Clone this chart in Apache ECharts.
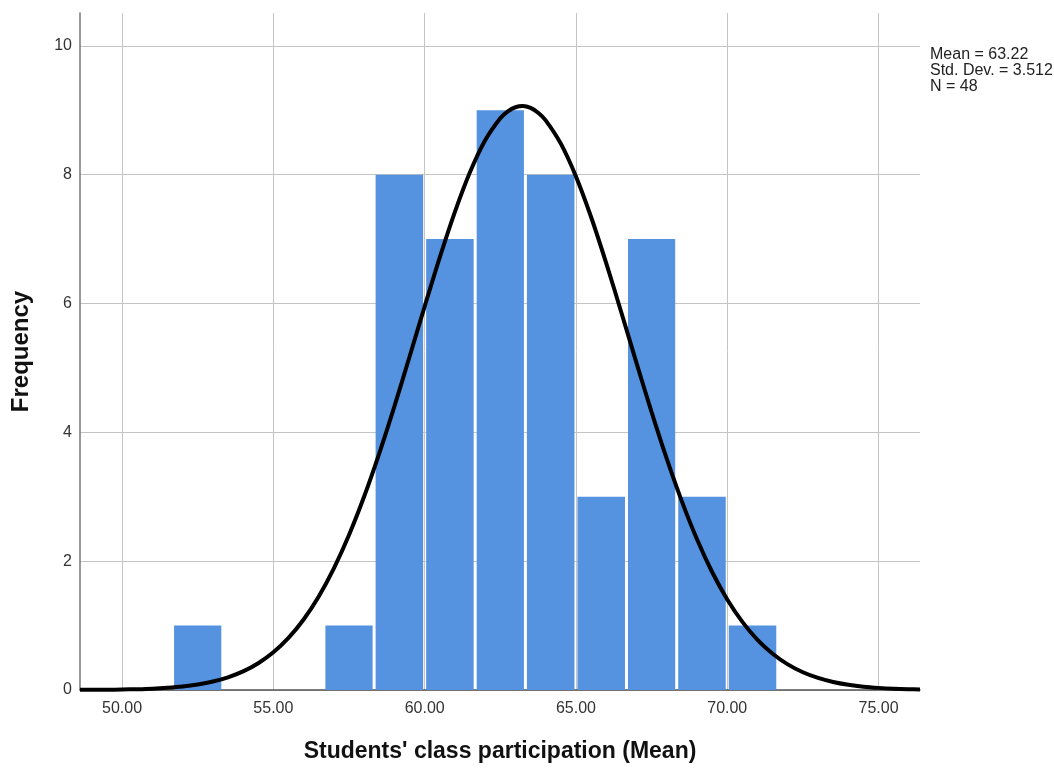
<!DOCTYPE html>
<html><head><meta charset="utf-8">
<script src="https://cdn.jsdelivr.net/npm/echarts@6/dist/echarts.min.js"></script>
<style>html,body{margin:0;padding:0;background:#fff}#c{width:1054px;height:769px}</style>
</head><body><div id="c"></div>
<script>
// Histogram bins (edges) and frequencies
const binEdges = [51.67, 53.33, 55.00, 56.67, 58.33, 60.00, 61.67, 63.33, 65.00, 66.67, 68.33, 70.00, 71.67];
const binCounts = [1, 0, 0, 1, 8, 7, 9, 8, 3, 7, 3, 1];
// Normal curve points
const curveX = [48.61, 49, 49.5, 50, 50.5, 51, 51.5, 52, 52.5, 53, 53.5, 54, 54.5, 55, 55.5, 56, 56.5, 57, 57.5, 58, 58.5, 59, 59.5, 60, 60.5, 61, 61.5, 62, 62.5, 62.75, 63, 63.25, 63.5, 63.75, 64, 64.5, 65, 65.5, 66, 66.5, 67, 67.5, 68, 68.5, 69, 69.5, 70, 70.5, 71, 71.5, 72, 72.5, 73, 73.5, 74, 74.5, 75, 75.5, 76, 76.37];
const curveY = [0.002, 0.003, 0.004, 0.008, 0.013, 0.021, 0.035, 0.055, 0.086, 0.131, 0.197, 0.289, 0.416, 0.586, 0.809, 1.095, 1.453, 1.889, 2.406, 3.003, 3.674, 4.404, 5.173, 5.954, 6.716, 7.423, 8.041, 8.535, 8.877, 8.984, 9.047, 9.065, 9.036, 8.962, 8.844, 8.482, 7.973, 7.343, 6.627, 5.861, 5.079, 4.314, 3.591, 2.928, 2.340, 1.832, 1.406, 1.058, 0.779, 0.563, 0.398, 0.276, 0.188, 0.125, 0.082, 0.052, 0.033, 0.020, 0.012, 0.008];
const xTicks = [50, 55, 60, 65, 70, 75];
const yTicks = [0, 2, 4, 6, 8, 10];
const statsLines = ['Mean = 63.22', 'Std. Dev. = 3.512', 'N = 48'];
const xName = "Students' class participation (Mean)";
const yName = 'Frequency';

const barData = binCounts.map((c, i) => [binEdges[i], binEdges[i + 1], c]);
const lineData = curveX.map((x, i) => [x, curveY[i]]);
const FONT = '"Liberation Sans", Arial, sans-serif';

const chart = echarts.init(document.getElementById('c'), null, {renderer: 'canvas'});
chart.setOption({
  animation: false,
  backgroundColor: '#fff',
  grid: {left: 80, right: 134, top: 13, bottom: 79, containLabel: false, outerBoundsMode: 'none'},
  xAxis: {
    type: 'value', min: 48.61, max: 76.37,
    name: xName, nameLocation: 'middle', nameGap: 50,
    nameTextStyle: {fontFamily: FONT, fontSize: 23, fontWeight: 'bold', color: '#111'},
    axisLine: {show: true, onZero: false, lineStyle: {color: '#555', width: 1.5}},
    axisTick: {show: false, customValues: xTicks},
    axisLabel: {customValues: xTicks, fontFamily: FONT, fontSize: 16, color: '#333', margin: 11,
      formatter: v => Number(v).toFixed(2)},
    splitLine: {show: true, lineStyle: {color: '#c4c4c4', width: 1}}
  },
  yAxis: {
    type: 'value', min: 0, max: 10.51,
    name: yName, nameLocation: 'middle', nameGap: 47,
    nameTextStyle: {fontFamily: FONT, fontSize: 24, fontWeight: 'bold', color: '#111'},
    axisLine: {show: true, lineStyle: {color: '#777', width: 1.5}},
    axisTick: {show: false, customValues: yTicks},
    axisLabel: {customValues: yTicks, fontFamily: FONT, fontSize: 16, color: '#333', margin: 8},
    splitLine: {show: true, lineStyle: {color: '#c4c4c4', width: 1}}
  },
  graphic: [{
    type: 'text', left: 930, top: 47,
    style: {text: statsLines.join('\n'), font: '16px ' + FONT, fill: '#222', lineHeight: 16}
  }],
  series: [{
    type: 'custom',
    data: barData,
    encode: {x: [0, 1], y: 2},
    renderItem: function (params, api) {
      const s = api.value(0), e = api.value(1), c = api.value(2);
      if (!c) return null;
      const p0 = api.coord([s, c]);
      const p1 = api.coord([e, 0]);
      return {
        type: 'rect',
        shape: {x: p0[0] + 1.5, y: p0[1], width: p1[0] - p0[0] - 3, height: p1[1] - p0[1]},
        style: {fill: '#5592e0'}
      };
    },
    z: 2
  }, {
    type: 'line',
    data: lineData,
    smooth: 0.3,
    showSymbol: false,
    lineStyle: {color: '#000', width: 4},
    z: 3
  }]
});
</script>
</body></html>
